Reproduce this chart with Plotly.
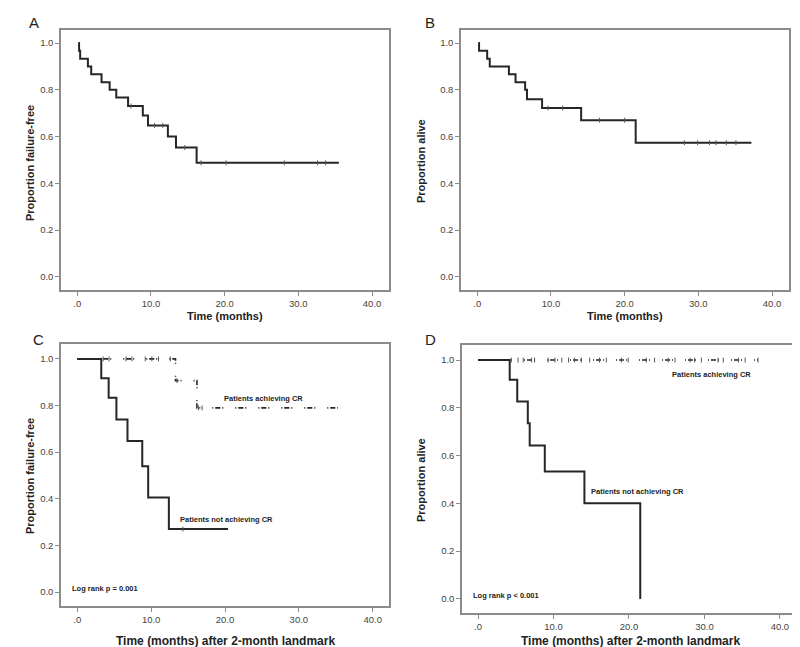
import plotly.graph_objects as go
import numpy as np

# ---------------- data ----------------
# Panel A: failure-free survival (all patients)
A_time = [0.15, 0.25, 0.4, 1.45, 1.9, 3.3, 4.4, 5.3, 6.9, 8.9, 9.6, 12.3, 13.4, 16.2, 35.5]
A_surv = [1.0, 0.967, 0.933, 0.90, 0.867, 0.833, 0.80, 0.767, 0.731, 0.69, 0.648, 0.60, 0.553, 0.488, 0.488]
A_cens = [7.3, 10.5, 11.6, 14.6, 16.8, 20.2, 28.1, 32.6, 33.7]

# Panel B: overall survival (all patients)
B_time = [0.15, 0.25, 1.35, 1.7, 4.3, 5.2, 6.5, 6.75, 8.8, 14.1, 21.5, 37.2]
B_surv = [1.0, 0.967, 0.933, 0.90, 0.867, 0.833, 0.80, 0.76, 0.722, 0.67, 0.574, 0.574]
B_cens = [9.6, 11.6, 16.6, 20.0, 28.1, 29.9, 31.5, 32.4, 33.8, 35.1]

# Panel C: failure-free survival by CR status (landmark)
C_noCR_time = [0, 3.25, 4.25, 5.3, 6.8, 8.8, 9.6, 12.4, 20.4]
C_noCR_surv = [1.0, 0.917, 0.833, 0.74, 0.648, 0.54, 0.405, 0.27, 0.27]
C_noCR_cens = [14.3]
C_CR_time = [0, 13.3, 16.2, 35.3]
C_CR_surv = [1.0, 0.907, 0.79, 0.79]
C_CR_cens = [3.5, 4.3, 6.6, 7.4, 9.2, 10.1, 11.0, 12.6, 13.5, 16.4, 16.9]

# Panel D: overall survival by CR status (landmark)
D_noCR_time = [0, 4.2, 5.2, 6.6, 6.85, 8.85, 14.1, 21.5]
D_noCR_surv = [1.0, 0.917, 0.826, 0.735, 0.642, 0.533, 0.40, 0.0]
D_CR_time = [0, 37.1]
D_CR_surv = [1.0, 1.0]
D_CR_cens = [4.4, 5.3, 6.0, 7.1, 7.5, 9.3, 10.2, 11.1, 12.0, 12.8, 13.7, 14.8, 16.1, 17.0,
             19.0, 19.9, 22.3, 23.4, 25.2, 26.1, 28.1, 28.7, 29.6, 31.8, 32.5, 34.5, 35.4, 37.1]

x_tickvals = [0, 10, 20, 30, 40]
x_ticktext = [".0", "10.0", "20.0", "30.0", "40.0"]
y_tickvals = [0, 0.2, 0.4, 0.6, 0.8, 1.0]
y_ticktext = ["0.0", "0.2", "0.4", "0.6", "0.8", "1.0"]

# ---------------- style ----------------
FONT = "Liberation Sans, Arial, sans-serif"
LINE = "#262626"
FRAME = "#8c8c8c"
TICKC = "#444444"
CR_DASH = "1px,2px,5px,2px,1px,12px"
W, H = 800, 647


def step_at(times, surv, t):
    idx = np.searchsorted(np.array(times), t, side="right") - 1
    idx = max(idx, 0)
    return surv[idx]


fig = go.Figure()

panels = {
    "A": dict(x=(53, 381), y=(22, 282), xr=[-2.2, 42.3], yr=[-0.056, 1.056]),
    "B": dict(x=(453, 781), y=(22, 282), xr=[-2.2, 42.3], yr=[-0.056, 1.056]),
    "C": dict(x=(53, 381), y=(336, 598), xr=[-2.2, 42.2], yr=[-0.060, 1.064]),
    "D": dict(x=(454, 790), y=(337, 605), xr=[-2.12, 42.4], yr=[-0.059, 1.063]),
}
axis_ids = {"A": ("x", "y", ""), "B": ("x2", "y2", "2"), "C": ("x3", "y3", "3"), "D": ("x4", "y4", "4")}

layout_axes = {}
for key, p in panels.items():
    xa, ya, suf = axis_ids[key]
    layout_axes["xaxis" + suf] = dict(
        domain=[p["x"][0] / W, p["x"][1] / W], range=p["xr"], anchor=ya,
        showline=True, mirror=True, linecolor=FRAME, linewidth=1.5,
        ticks="outside", ticklen=4, tickcolor=FRAME, tickwidth=1,
        tickvals=x_tickvals, ticktext=x_ticktext,
        tickfont=dict(family=FONT, size=9.5, color=TICKC),
        showgrid=False, zeroline=False, fixedrange=True,
    )
    layout_axes["yaxis" + suf] = dict(
        domain=[1 - p["y"][1] / H, 1 - p["y"][0] / H], range=p["yr"], anchor=xa,
        showline=True, mirror=True, linecolor=FRAME, linewidth=1.5,
        ticks="outside", ticklen=4, tickcolor=FRAME, tickwidth=1,
        tickvals=y_tickvals, ticktext=y_ticktext,
        tickfont=dict(family=FONT, size=9.5, color=TICKC),
        showgrid=False, zeroline=False, fixedrange=True,
    )


def add_curve(key, t, s, dash="solid", width=2.0):
    xa, ya, _ = axis_ids[key]
    fig.add_trace(go.Scatter(x=t, y=s, mode="lines", line=dict(shape="hv", color=LINE, width=width, dash=dash),
                             xaxis=xa, yaxis=ya, showlegend=False, hoverinfo="skip"))


def add_cens(key, t, s, cens):
    xa, ya, _ = axis_ids[key]
    fig.add_trace(go.Scatter(x=cens, y=[step_at(t, s, c) for c in cens], mode="markers",
                             marker=dict(symbol="line-ns-open", size=3.5, color="#555555",
                                         line=dict(color="#555555", width=1)),
                             xaxis=xa, yaxis=ya, showlegend=False, hoverinfo="skip"))


add_curve("A", A_time, A_surv)
add_cens("A", A_time, A_surv, A_cens)
add_curve("B", B_time, B_surv)
add_cens("B", B_time, B_surv, B_cens)
add_curve("C", C_CR_time, C_CR_surv, dash=CR_DASH, width=1.6)
add_cens("C", C_CR_time, C_CR_surv, C_CR_cens)
add_curve("C", C_noCR_time, C_noCR_surv)
add_cens("C", C_noCR_time, C_noCR_surv, C_noCR_cens)
add_curve("D", D_CR_time, D_CR_surv, dash=CR_DASH, width=1.6)
add_cens("D", D_CR_time, D_CR_surv, D_CR_cens)
add_curve("D", D_noCR_time, D_noCR_surv)

ann = []
# panel letters
for letter, (px, py) in {"A": (26, 15), "B": (422, 15), "C": (30, 331), "D": (422, 331)}.items():
    ann.append(dict(text=letter, x=px / W, y=1 - py / H, xref="paper", yref="paper", showarrow=False,
                    xanchor="center", yanchor="middle", font=dict(family=FONT, size=15, color="#222222")))
# x-axis titles
for txt, px, py, sz in [("Time (months)", 217, 308, 11), ("Time (months)", 617, 308, 11),
                        ("Time (months) after 2-month landmark", 217, 633, 12),
                        ("Time (months) after 2-month landmark", 622, 633, 12)]:
    ann.append(dict(text="<b>" + txt + "</b>", x=px / W, y=1 - py / H, xref="paper", yref="paper",
                    showarrow=False, xanchor="center", yanchor="middle",
                    font=dict(family=FONT, size=sz, color="#222222")))
# y-axis titles
for txt, px, py in [("Proportion failure-free", 22, 155), ("Proportion alive", 413, 153),
                    ("Proportion failure-free", 22, 468), ("Proportion alive", 413, 472)]:
    ann.append(dict(text="<b>" + txt + "</b>", x=px / W, y=1 - py / H, xref="paper", yref="paper",
                    showarrow=False, xanchor="center", yanchor="middle", textangle=-90,
                    font=dict(family=FONT, size=11, color="#222222")))
# in-plot labels
for key, txt, x, y, xanc in [("C", "Patients achieving CR", 25.2, 0.83, "center"),
                             ("C", "Patients not achieving CR", 20.2, 0.311, "center"),
                             ("C", "Log rank p = 0.001", -1.04, 0.016, "left"),
                             ("D", "Patients achieving CR", 31.0, 0.94, "center"),
                             ("D", "Patients not achieving CR", 21.1, 0.45, "center"),
                             ("D", "Log rank p < 0.001", -0.88, 0.014, "left")]:
    xa, ya, _ = axis_ids[key]
    ann.append(dict(text="<b>" + txt + "</b>", x=x, y=y, xref=xa, yref=ya, showarrow=False,
                    xanchor=xanc, yanchor="middle", font=dict(family=FONT, size=7.5, color="#222222")))

fig.update_layout(
    width=W, height=H, margin=dict(l=0, r=0, t=0, b=0),
    paper_bgcolor="white", plot_bgcolor="white",
    annotations=ann, showlegend=False,
    **layout_axes,
)

fig.write_html("out.html")
